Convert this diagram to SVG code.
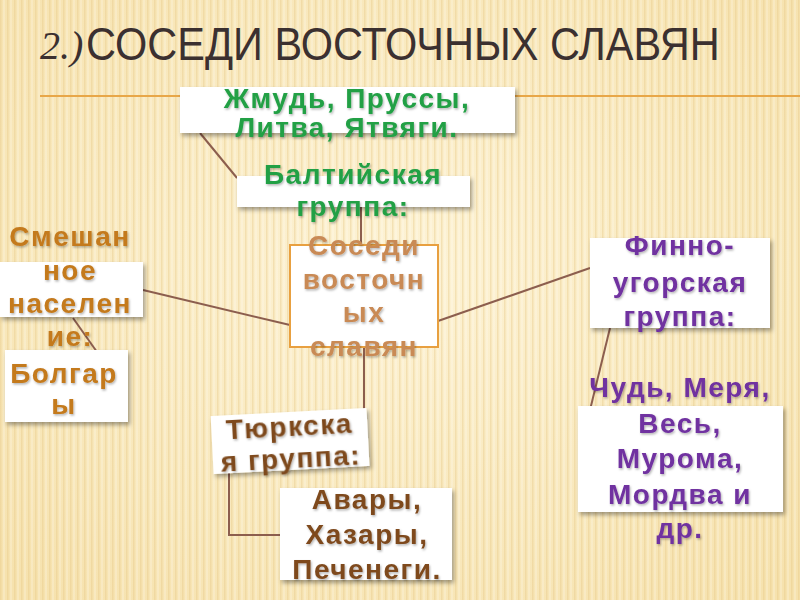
<svg xmlns="http://www.w3.org/2000/svg" width="800" height="600" viewBox="0 0 800 600">
<defs>
<radialGradient id="bg" cx="50%" cy="45%" r="70%">
<stop offset="0" stop-color="#fdf3d6"/>
<stop offset="1" stop-color="#f6e2ae"/>
</radialGradient>
<pattern id="stripes" width="7" height="600" patternUnits="userSpaceOnUse">
<rect x="0" y="0" width="1.5" height="600" fill="#e6c888" opacity="0.4"/>
<rect x="3.5" y="0" width="1" height="600" fill="#ffffff" opacity="0.4"/>
</pattern>
<filter id="sh" x="-10%" y="-10%" width="130%" height="140%">
<feDropShadow dx="2" dy="3" stdDeviation="2" flood-color="#000" flood-opacity="0.35"/>
</filter>
<filter id="tsh" x="-10%" y="-10%" width="120%" height="130%">
<feDropShadow dx="1" dy="1.5" stdDeviation="0.8" flood-color="#000" flood-opacity="0.3"/>
</filter>
</defs>
<style>
.box{fill:#ffffff;filter:url(#sh)}
.t{font-family:"Liberation Sans",Arial,sans-serif;font-weight:bold;font-size:28px;text-anchor:middle;filter:url(#tsh);letter-spacing:1.5px}
.green{fill:#22a045}
.tan{fill:#c98a55}
.orange{fill:#c47a1e}
.purple{fill:#7030a0}
.brown{fill:#7e4a1e}
.c{stroke:#8c5e4e;stroke-width:2;fill:none}
</style>
<rect width="800" height="600" fill="url(#bg)"/>
<rect width="800" height="600" fill="url(#stripes)"/>
<g id="title">
<line x1="40" y1="96" x2="800" y2="96" stroke="#e8a748" stroke-width="2"/>
<text x="40" y="59" font-family="Liberation Serif,serif" font-style="italic" font-size="40" fill="#3b3030">2.)</text>
<text transform="translate(86 60) scale(0.9 1)" x="0" y="0" font-family="Liberation Sans,Arial,sans-serif" font-size="47" fill="#3b3030" textLength="704" lengthAdjust="spacingAndGlyphs">СОСЕДИ ВОСТОЧНЫХ СЛАВЯН</text>
</g>
<g id="connectors">
<line class="c" x1="200" y1="133" x2="237" y2="178"/>
<line class="c" x1="361" y1="205" x2="361" y2="245"/>
<line class="c" x1="290" y1="325" x2="143" y2="290"/>
<line class="c" x1="438" y1="321" x2="590" y2="268"/>
<line class="c" x1="364" y1="347" x2="364" y2="412"/>
<polyline class="c" points="229,468 229,535 282,535"/>
<line class="c" x1="73" y1="318" x2="97" y2="352"/>
<line class="c" x1="610" y1="328" x2="590" y2="410"/>
</g>
<g id="n-baltic-peoples">
<rect class="box" x="180" y="87" width="335" height="46"/>
<text class="t green" x="347" y="108">Жмудь, Пруссы,</text>
<text class="t green" x="347" y="137">Литва, Ятвяги.</text>
</g>
<g id="n-baltic">
<rect class="box" x="237" y="176" width="233" height="31"/>
<text class="t green" x="353" y="184">Балтийская</text>
<text class="t green" x="353" y="216">группа:</text>
</g>
<g id="n-center">
<rect x="290" y="245" width="148" height="102" fill="#fff" stroke="#e8a040" stroke-width="2"/>
<text class="t tan" x="364" y="255">Соседи</text>
<text class="t tan" x="364" y="289">восточн</text>
<text class="t tan" x="364" y="322">ых</text>
<text class="t tan" x="364" y="356">славян</text>
</g>
<g id="n-mixed">
<rect class="box" x="0" y="262" width="143" height="55"/>
<text class="t orange" x="70" y="246">Смешан</text>
<text class="t orange" x="70" y="280">ное</text>
<text class="t orange" x="70" y="313">населен</text>
<text class="t orange" x="70" y="346">ие:</text>
</g>
<g id="n-bulgars">
<rect class="box" x="5" y="350" width="123" height="72"/>
<text class="t orange" x="64" y="383">Болгар</text>
<text class="t orange" x="64" y="414">ы</text>
</g>
<g id="n-finno">
<rect class="box" x="590" y="238" width="180" height="90"/>
<text class="t purple" x="680" y="255">Финно-</text>
<text class="t purple" x="680" y="292">угорская</text>
<text class="t purple" x="680" y="326">группа:</text>
</g>
<g id="n-finno-peoples">
<rect class="box" x="578" y="406" width="205" height="106"/>
<text class="t purple" x="680" y="397">Чудь, Меря,</text>
<text class="t purple" x="680" y="433">Весь,</text>
<text class="t purple" x="680" y="468">Мурома,</text>
<text class="t purple" x="680" y="504">Мордва и</text>
<text class="t purple" x="680" y="538">др.</text>
</g>
<g id="n-turkic" transform="rotate(-3 290 440)">
<rect class="box" x="212" y="412" width="156" height="58"/>
<text class="t brown" x="290" y="436">Тюркска</text>
<text class="t brown" x="290" y="468">я группа:</text>
</g>
<g id="n-turkic-peoples">
<rect class="box" x="280" y="488" width="172" height="92"/>
<text class="t brown" x="367" y="509">Авары,</text>
<text class="t brown" x="367" y="544">Хазары,</text>
<text class="t brown" x="367" y="579">Печенеги.</text>
</g>
</svg>
